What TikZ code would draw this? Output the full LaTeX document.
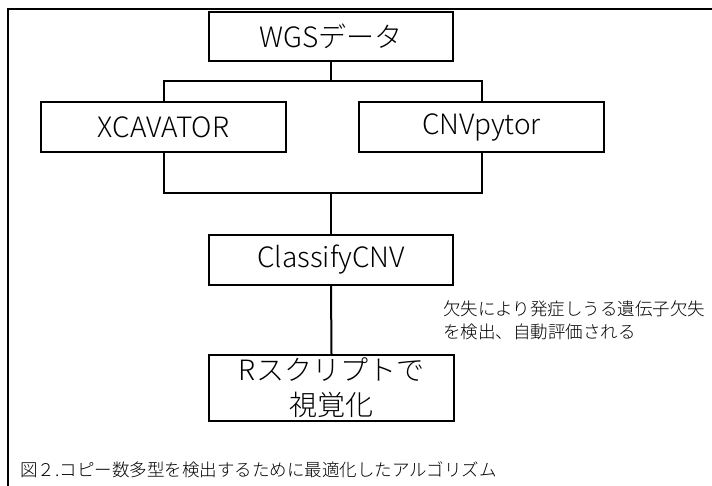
\documentclass[tikz,border=0pt]{standalone}
\usepackage{fontspec}
\setmainfont{Noto Sans CJK JP Light}
\begin{document}
\begin{tikzpicture}[x=1pt,y=-1pt,
  box/.style={draw=black,line width=2pt,rectangle,inner sep=0pt,align=center,font=\fontsize{28}{35}\selectfont},
  conn/.style={draw=black,line width=2pt},
  small/.style={font=\fontsize{17.5}{23}\selectfont,inner sep=0pt,align=left}]
\useasboundingbox[fill=white] (0,0) rectangle (712,486);
% outer frame (cut by the picture edges)
\draw[line width=2pt] (8,490) -- (8,9) -- (716,9);
% boxes
\node[box,minimum width=244pt,minimum height=49pt] (wgs) at (331,36.5) {WGSデータ};
\node[box,minimum width=245pt,minimum height=50pt] (xca) at (163.5,127) {XCAVATOR};
\node[box,minimum width=245pt,minimum height=50pt] (cnv) at (481.5,127) {CNVpytor};
\node[box,minimum width=244pt,minimum height=50pt] (cls) at (331,260) {ClassifyCNV};
\node[box,minimum width=245pt,minimum height=66pt] (rsc) at (331.5,388) {Rスクリプトで\\視覚化};
% junctions
\coordinate (j1) at (331,81);
\coordinate (j2) at (331,193);
% connectors
\draw[conn] (wgs.south) -- (j1);
\draw[conn] (xca.north) |- (j1) -| (cnv.north);
\draw[conn] (xca.south) |- (j2) -| (cnv.south);
\draw[conn] (j2) -- (cls.north);
\draw[conn] (cls.south) -- (rsc.north);
% annotation and caption
\node[small,anchor=west] (note) at (443,320) {欠失により発症しうる遺伝子欠失\\を検出、自動評価される};
\node[small,anchor=west] (cap) at (20,470) {図２.コピー数多型を検出するために最適化したアルゴリズム};
\end{tikzpicture}
\end{document}
